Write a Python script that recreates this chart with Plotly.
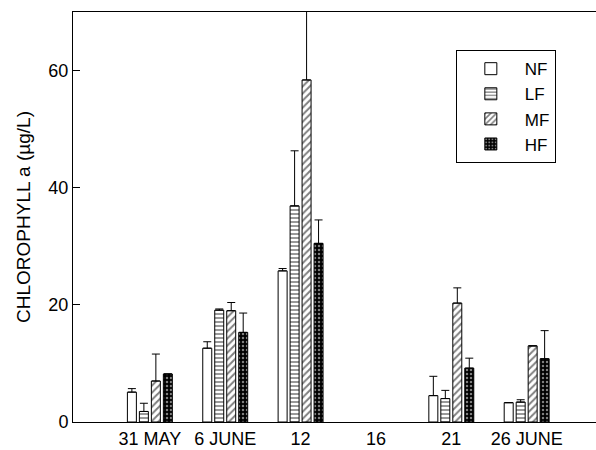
import plotly.graph_objects as go

dates = ["31 MAY", "6 JUNE", "12", "16", "21", "26 JUNE"]
series = ["NF", "LF", "MF", "HF"]

nf = [5.1, 12.6, 25.8, None, 4.5, 3.3]
lf = [1.8, 19.1, 36.9, None, 4.0, 3.4]
mf = [7.0, 19.0, 58.4, None, 20.3, 13.0]
hf = [8.2, 15.3, 30.5, None, 9.2, 10.8]

nf_err = [0.6, 1.1, 0.4, None, 3.3, None]
lf_err = [1.4, 0.2, 9.4, None, 1.4, 0.4]
mf_err = [4.6, 1.4, 15.0, None, 2.6, None]
hf_err = [None, 3.3, 4.0, None, 1.7, 4.8]

values = [nf, lf, mf, hf]
errors = [nf_err, lf_err, mf_err, hf_err]

patterns = [
    dict(shape="", bgcolor="white"),
    dict(shape="-", fgcolor="black", bgcolor="white", size=4, solidity=0.4),
    dict(shape="/", fgcolor="black", bgcolor="white", size=5, solidity=0.4),
    dict(shape=".", fgcolor="white", bgcolor="black", size=4, solidity=0.3),
]

fig = go.Figure()
for name, vals, errs, pat in zip(series, values, errors, patterns):
    fig.add_trace(go.Bar(
        x=dates, y=vals, name=name,
        marker=dict(color="white", line=dict(color="black", width=1), pattern=pat),
        error_y=dict(type="data", symmetric=False, array=errs,
                     arrayminus=[0] * len(errs), color="black", thickness=1, width=4),
    ))

fig.update_layout(
    width=596, height=450,
    margin=dict(l=73, r=0, t=12, b=28),
    paper_bgcolor="white", plot_bgcolor="white",
    barmode="group", bargap=0.364, bargroupgap=0.25,
    font=dict(family="Liberation Sans, Arial, sans-serif", size=18, color="black"),
    showlegend=True,
    legend=dict(x=0.732, y=0.907, xanchor="left", yanchor="top",
                bordercolor="black", borderwidth=1, bgcolor="white",
                font=dict(size=17), traceorder="normal", itemwidth=58),
)
fig.update_xaxes(type="category", categoryorder="array", categoryarray=dates,
                 range=[-1.02, 5.92], showline=True, linecolor="black", linewidth=1,
                 mirror=True, ticks="", showgrid=False, zeroline=False)
fig.update_yaxes(range=[0, 70], tickvals=[0, 20, 40, 60], showline=True, linecolor="black",
                 linewidth=1, ticks="inside", ticklen=7, tickcolor="black",
                 showgrid=False, zeroline=False,
                 title=dict(text="CHLOROPHYLL a (µg/L)", font=dict(size=19), standoff=12))

fig.write_html("out.html")
